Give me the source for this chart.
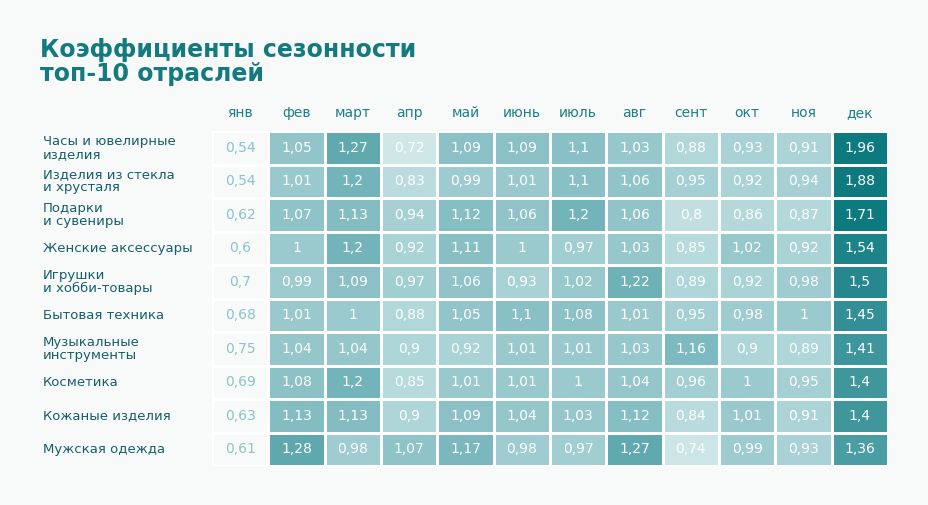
import numpy as np, pandas as pd, seaborn as sns, matplotlib.pyplot as plt
from matplotlib.colors import LinearSegmentedColormap

months = ["янв","фев","март","апр","май","июнь","июль","авг","сент","окт","ноя","дек"]
industries = ["Часы и ювелирные\nизделия","Изделия из стекла\nи хрусталя","Подарки\nи сувениры","Женские аксессуары",
              "Игрушки\nи хобби-товары","Бытовая техника","Музыкальные\nинструменты","Косметика","Кожаные изделия","Мужская одежда"]
r1 = [0.54,1.05,1.27,0.72,1.09,1.09,1.1,1.03,0.88,0.93,0.91,1.96]
r2 = [0.54,1.01,1.2,0.83,0.99,1.01,1.1,1.06,0.95,0.92,0.94,1.88]
r3 = [0.62,1.07,1.13,0.94,1.12,1.06,1.2,1.06,0.8,0.86,0.87,1.71]
r4 = [0.6,1,1.2,0.92,1.11,1,0.97,1.03,0.85,1.02,0.92,1.54]
r5 = [0.7,0.99,1.09,0.97,1.06,0.93,1.02,1.22,0.89,0.92,0.98,1.5]
r6 = [0.68,1.01,1,0.88,1.05,1.1,1.08,1.01,0.95,0.98,1,1.45]
r7 = [0.75,1.04,1.04,0.9,0.92,1.01,1.01,1.03,1.16,0.9,0.89,1.41]
r8 = [0.69,1.08,1.2,0.85,1.01,1.01,1,1.04,0.96,1,0.95,1.4]
r9 = [0.63,1.13,1.13,0.9,1.09,1.04,1.03,1.12,0.84,1.01,0.91,1.4]
r10 = [0.61,1.28,0.98,1.07,1.17,0.98,0.97,1.27,0.74,0.99,0.93,1.36]

df = pd.DataFrame([r1,r2,r3,r4,r5,r6,r7,r8,r9,r10], index=industries, columns=months)
bg = "#f8fafa"
fig = plt.figure(figsize=(9.29,5.05), dpi=100, facecolor=bg)
ax = fig.add_axes([212/929, 1-466/505, (888-212)/929, (466-131)/505])
ax.set_facecolor(bg)
cmap = LinearSegmentedColormap.from_list("t", ["#d3e9ea","#7fbbc0","#0d7a80"])
mask = np.zeros(df.shape, bool); mask[:,0] = True
annot = df.map(lambda v: f"{v:g}".replace(".", ","))
sns.heatmap(df, mask=mask, cmap=cmap, vmin=0.7, vmax=1.6, annot=annot, fmt="",
            annot_kws=dict(color="white", fontsize=10, family="Montserrat" if False else "DejaVu Sans"),
            linewidths=1, linecolor="white", cbar=False, ax=ax)
for i, v in enumerate(df["янв"]):
    ax.text(0.5, i+0.5, f"{v:g}".replace(".", ","), ha="center", va="center", color="#8cc3c8", fontsize=10)
ax.xaxis.tick_top()
ax.set_xticklabels(months, color="#1f7f86", fontsize=10)
ax.tick_params(length=0, pad=8)
ax.set_yticks([])
ax.set_xlabel(""); ax.set_ylabel("")
for i, name in enumerate(industries):
    fig.text(43/929, 1-(131+33.5*(i+0.5))/505, name, ha="left", va="center", color="#155f6a", fontsize=9.5, linespacing=1.0)
fig.text(40/929, 1-62/505, "Коэффициенты сезонности\nтоп-10 отраслей", ha="left", va="center",
         color="#137a80", fontsize=17, fontweight="bold", linespacing=1.0)
fig.savefig("out.png", dpi=100, facecolor=bg)
